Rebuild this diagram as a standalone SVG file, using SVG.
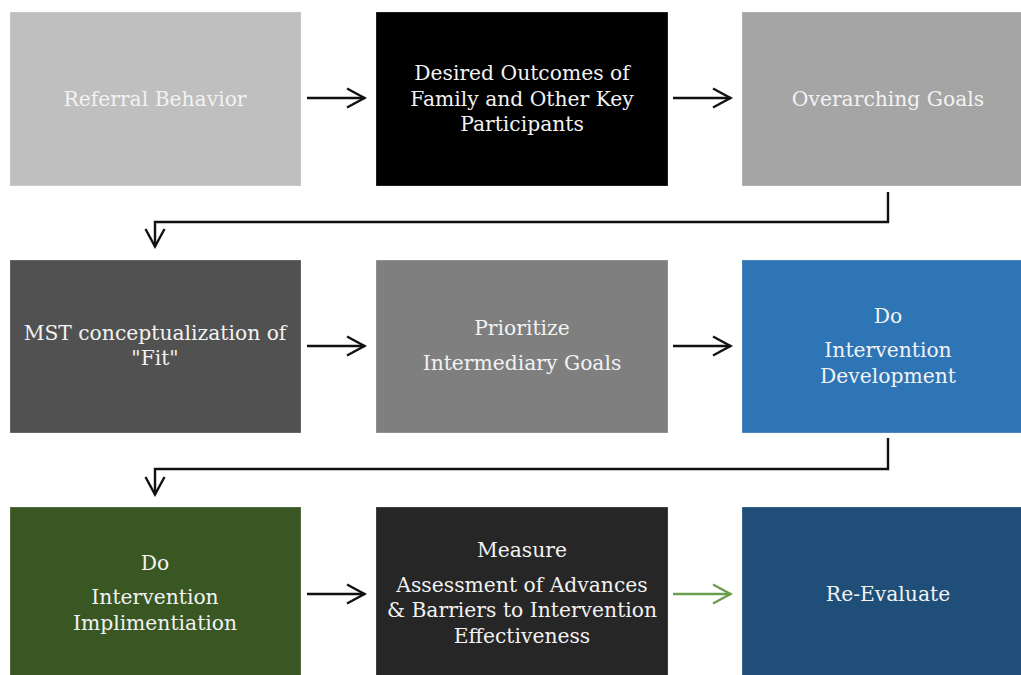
<svg xmlns="http://www.w3.org/2000/svg" width="1021" height="675" viewBox="0 0 1021 675">
  <style>
    .box { stroke: #ffffff; stroke-opacity: 0.25; stroke-width: 1; }
    .lbl { font-family: "DejaVu Serif", "Liberation Serif", serif; font-size: 20.3px; fill: #f2f2f2; text-anchor: middle; dominant-baseline: central; }
    .conn { fill: none; stroke: #111111; stroke-width: 2.4; }
    .conn-green { fill: none; stroke: #6a9e4f; stroke-width: 2.4; }
  </style>
  <defs>
    <marker id="head" viewBox="0 0 22 22" refX="20" refY="11" markerWidth="22" markerHeight="22" markerUnits="userSpaceOnUse" orient="auto">
      <path d="M2,1.5 L19.5,11 L2,20.5" fill="none" stroke="#111111" stroke-width="2.4"/>
    </marker>
    <marker id="head-green" viewBox="0 0 22 22" refX="20" refY="11" markerWidth="22" markerHeight="22" markerUnits="userSpaceOnUse" orient="auto">
      <path d="M2,1.5 L19.5,11 L2,20.5" fill="none" stroke="#6a9e4f" stroke-width="2.4"/>
    </marker>
  </defs>
  <rect width="1021" height="675" fill="#ffffff"/>

  <g id="connectors">
    <path class="conn" d="M307,98 H365" marker-end="url(#head)"/>
    <path class="conn" d="M673,98 H731" marker-end="url(#head)"/>
    <path class="conn" d="M888,192 V222 H155 V247" marker-end="url(#head)"/>
    <path class="conn" d="M307,346 H365" marker-end="url(#head)"/>
    <path class="conn" d="M673,346 H731" marker-end="url(#head)"/>
    <path class="conn" d="M888,438 V469 H155 V495" marker-end="url(#head)"/>
    <path class="conn" d="M307,594 H365" marker-end="url(#head)"/>
    <path class="conn-green" d="M673,594 H731" marker-end="url(#head-green)"/>
  </g>

  <g id="referral-behavior">
    <rect class="box" x="10" y="12" width="291" height="174" fill="#bfbfbf"/>
    <text class="lbl" x="155" y="99">Referral Behavior</text>
  </g>
  <g id="desired-outcomes">
    <rect class="box" x="376" y="12" width="292" height="174" fill="#000000"/>
    <text class="lbl" x="522" y="73">Desired Outcomes of</text>
    <text class="lbl" x="522" y="99">Family and Other Key</text>
    <text class="lbl" x="522" y="124">Participants</text>
  </g>
  <g id="overarching-goals">
    <rect class="box" x="742" y="12" width="280" height="174" fill="#a5a5a5"/>
    <text class="lbl" x="888" y="99">Overarching Goals</text>
  </g>

  <g id="mst-fit">
    <rect class="box" x="10" y="260" width="291" height="173" fill="#515151"/>
    <text class="lbl" x="155" y="333">MST conceptualization of</text>
    <text class="lbl" x="155" y="358">"Fit"</text>
  </g>
  <g id="prioritize-goals">
    <rect class="box" x="376" y="260" width="292" height="173" fill="#7f7f7f"/>
    <text class="lbl" x="522" y="328">Prioritize</text>
    <text class="lbl" x="522" y="363">Intermediary Goals</text>
  </g>
  <g id="intervention-development">
    <rect class="box" x="742" y="260" width="280" height="173" fill="#2e75b6"/>
    <text class="lbl" x="888" y="316">Do</text>
    <text class="lbl" x="888" y="350">Intervention</text>
    <text class="lbl" x="888" y="376">Development</text>
  </g>

  <g id="intervention-implementation">
    <rect class="box" x="10" y="507" width="291" height="170" fill="#385723"/>
    <text class="lbl" x="155" y="563">Do</text>
    <text class="lbl" x="155" y="597">Intervention</text>
    <text class="lbl" x="155" y="623">Implimentiation</text>
  </g>
  <g id="measure">
    <rect class="box" x="376" y="507" width="292" height="170" fill="#262626"/>
    <text class="lbl" x="522" y="550">Measure</text>
    <text class="lbl" x="522" y="585">Assessment of Advances</text>
    <text class="lbl" x="522" y="610">&amp; Barriers to Intervention</text>
    <text class="lbl" x="522" y="636">Effectiveness</text>
  </g>
  <g id="re-evaluate">
    <rect class="box" x="742" y="507" width="280" height="170" fill="#1f4e79"/>
    <text class="lbl" x="888" y="594">Re-Evaluate</text>
  </g>
</svg>
